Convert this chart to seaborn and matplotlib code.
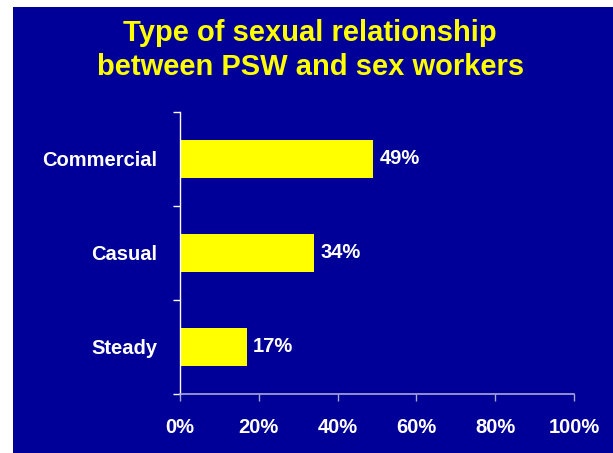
import matplotlib
matplotlib.use("Agg")
import matplotlib.pyplot as plt
import matplotlib.patches as mpatches
from matplotlib.ticker import FixedLocator, PercentFormatter
import seaborn as sns
import pandas as pd

categories = ["Commercial", "Casual", "Steady"]
values = [49, 34, 17]
xticks = [0, 20, 40, 60, 80, 100]
title_lines = ["Type of sexual relationship", "between PSW and sex workers"]

BLUE = "#000099"
YELLOW = "#FFFF00"
AXIS_X = "#A8A8D8"
FS = 14.5

sns.set_theme(style="white")
plt.rcParams["font.family"] = ["Liberation Sans", "DejaVu Sans"]

fig = plt.figure(figsize=(6.13, 4.53), dpi=100, facecolor="white")
fig.patches.append(mpatches.Rectangle((13 / 613, 0), 1 - 13 / 613, 1 - 7 / 453,
                                      transform=fig.transFigure, facecolor=BLUE,
                                      edgecolor="none", zorder=-10))

ax = fig.add_axes([180 / 613, 59 / 453, 394 / 613, 282 / 453])
ax.set_zorder(5)
ax.patch.set_alpha(0)

df = pd.DataFrame({"cat": categories, "val": values})
sns.barplot(data=df, x="val", y="cat", orient="h", color=YELLOW, width=0.4,
            saturation=1, ax=ax, edgecolor="none")

ax.set_xlim(0, 100)
ax.set_ylim(2.5, -0.5)
ax.set_xlabel("")
ax.set_ylabel("")

for c in ax.containers:
    ax.bar_label(c, labels=[f"{v}%" for v in values], padding=4.5, color="white",
                 fontsize=FS, fontweight="bold")

ax.xaxis.set_major_locator(FixedLocator(xticks))
ax.xaxis.set_major_formatter(PercentFormatter(decimals=0))
ax.tick_params(axis="x", which="major", direction="out", length=5, width=1,
               color=AXIS_X, bottom=True, labelcolor="white", labelsize=FS, pad=12)
for t in ax.get_xticklabels():
    t.set_fontweight("bold")

ax.yaxis.set_minor_locator(FixedLocator([-0.5, 0.5, 1.5, 2.5]))
ax.tick_params(axis="y", which="major", length=0, labelcolor="white",
               labelsize=FS, pad=16.5)
ax.tick_params(axis="y", which="minor", direction="out", length=5, width=1,
               color="white", left=True)
for t in ax.get_yticklabels():
    t.set_fontweight("bold")

for s in ["top", "right"]:
    ax.spines[s].set_visible(False)
ax.spines["left"].set_color("white")
ax.spines["left"].set_linewidth(1)
ax.spines["bottom"].set_color(AXIS_X)
ax.spines["bottom"].set_linewidth(1.2)

fig.text(0.506, 1 - 33 / 453, title_lines[0], ha="center", va="center",
         color=YELLOW, fontsize=21, fontweight="bold")
fig.text(0.506, 1 - 67 / 453, title_lines[1], ha="center", va="center",
         color=YELLOW, fontsize=21, fontweight="bold")

fig.savefig("out.png", dpi=100, facecolor="white")
